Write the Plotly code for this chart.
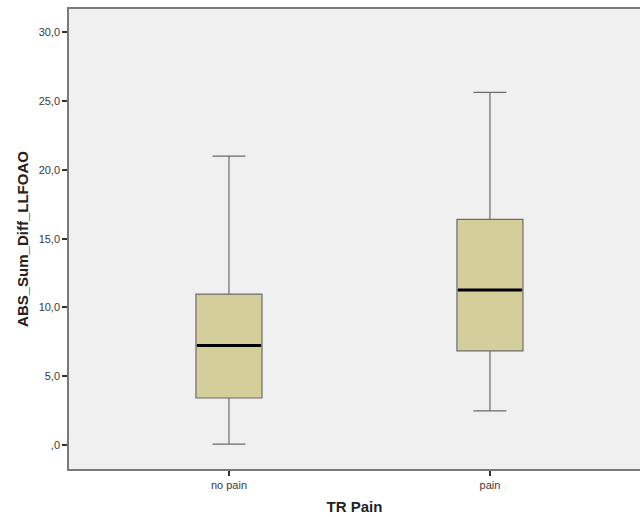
import plotly.graph_objects as go

categories = ["no pain", "pain"]
lower_whisker = [0.07, 2.49]
q1_vals = [3.42, 6.85]
medians = [7.24, 11.26]
q3_vals = [10.97, 16.4]
upper_whisker = [21.0, 25.63]
y_tick_vals = [0, 5, 10, 15, 20, 25, 30]
y_tick_text = [",0", "5,0", "10,0", "15,0", "20,0", "25,0", "30,0"]

fig = go.Figure()
fig.add_trace(go.Box(
    x=categories, q1=q1_vals, median=medians, q3=q3_vals,
    lowerfence=lower_whisker, upperfence=upper_whisker,
    fillcolor="#D4CF9A", line=dict(color="#6b6b6b", width=1.2),
    width=0.253, whiskerwidth=0.5, boxpoints=False, showlegend=False,
    hoverinfo="skip",
))
fig.add_trace(go.Box(
    x=categories, q1=medians, median=medians, q3=medians,
    lowerfence=medians, upperfence=medians,
    fillcolor="rgba(0,0,0,0)", line=dict(color="black", width=3),
    width=0.245, whiskerwidth=0, boxpoints=False, showlegend=False,
    hoverinfo="skip",
))

fig.update_layout(
    width=640, height=517,
    margin=dict(l=69, r=0, t=9, b=48, autoexpand=False),
    paper_bgcolor="white", plot_bgcolor="#F0F0F0",
    font=dict(family="Liberation Sans, Arial, sans-serif", color="#3a3a3a", size=11),
)
fig.update_xaxes(
    type="category", range=[-0.613, 1.575], automargin=False,
    showline=True, linecolor="#7a7a7a", linewidth=1.5, mirror=True,
    ticks="outside", ticklen=5, tickcolor="#333333", tickwidth=1.5,
    showgrid=False, zeroline=False,
    title=dict(text="<b>TR Pain</b>", font=dict(size=15, color="#222222"), standoff=12),
)
fig.update_yaxes(
    range=[-1.74, 31.69], tickvals=y_tick_vals, ticktext=y_tick_text, automargin=False,
    showline=True, linecolor="#7a7a7a", linewidth=1.5, mirror=True,
    ticks="outside", ticklen=5, tickcolor="#333333", tickwidth=1.5,
    showgrid=False, zeroline=False,
    title=dict(text="<b>ABS_Sum_Diff_LLFOAO</b>", font=dict(size=15, color="#222222"), standoff=6),
)

fig.write_html(
    "out.html",
    config={"displayModeBar": False},
    post_script="document.body.style.margin='0';document.body.style.padding='0';document.body.style.overflow='hidden';",
)
